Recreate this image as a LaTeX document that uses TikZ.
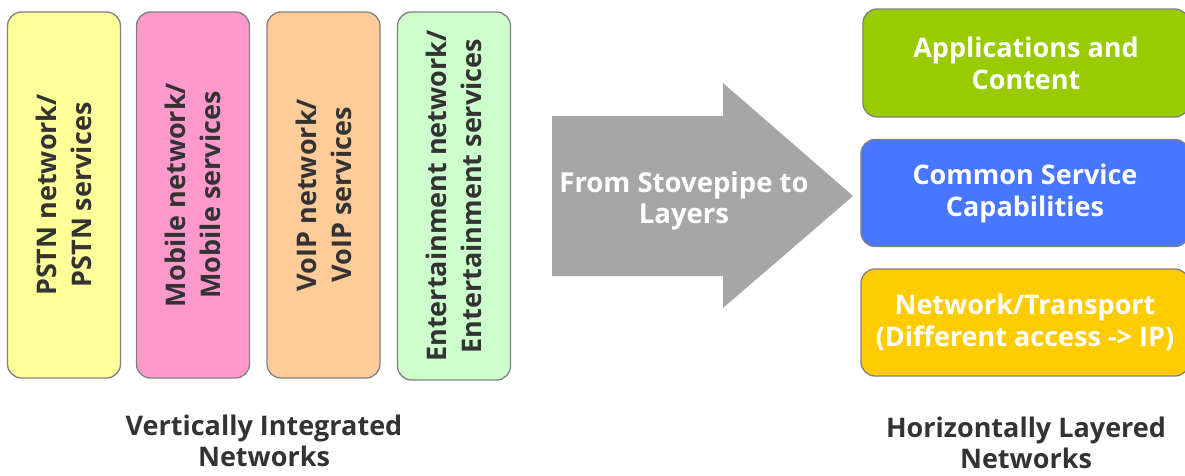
\documentclass[tikz,border=0pt]{standalone}
\usepackage{fontspec}
\setmainfont{Open Sans}[BoldFont={Open Sans Bold}]
\definecolor{txtdark}{HTML}{333333}
\definecolor{edgegray}{HTML}{808080}
\definecolor{pstnfill}{HTML}{FFFF99}
\definecolor{mobilefill}{HTML}{FF99CC}
\definecolor{voipfill}{HTML}{FFCC99}
\definecolor{entfill}{HTML}{CCFFCC}
\definecolor{appfill}{HTML}{99CC00}
\definecolor{svcfill}{HTML}{4876FF}
\definecolor{netfill}{HTML}{FFCC00}
\definecolor{arrowgray}{HTML}{A6A6A6}
\tikzset{
  column/.style={draw=edgegray, line width=1.3pt, rounded corners=14pt,
    rotate=90, minimum width=366pt, minimum height=113pt, align=center,
    text=txtdark, font=\bfseries\fontsize{27}{35}\selectfont, inner sep=0pt},
  layer/.style={draw=edgegray, line width=1.3pt, rounded corners=14pt,
    minimum width=328pt, minimum height=107pt, align=center,
    text=white, font=\bfseries\fontsize{27}{32}\selectfont, inner sep=0pt},
  caption/.style={align=center, text=txtdark,
    font=\bfseries\fontsize{27}{31}\selectfont, inner sep=0pt},
}
\begin{document}
\begin{tikzpicture}[x=1pt, y=-1pt]
\useasboundingbox (0,0) rectangle (1185,475);
\begin{scope}
\clip (0,0) rectangle (1185,475);

% stovepipe columns
\node[column, fill=pstnfill]   (pstn)   at (64,195)  {PSTN network/\\PSTN services};
\node[column, fill=mobilefill] (mobile) at (193,195) {Mobile network/\\Mobile services};
\node[column, fill=voipfill]   (voip)   at (323.5,195) {VoIP network/\\VoIP services};
\node[column, fill=entfill, minimum width=368pt] (ent) at (454,196) {Entertainment network/\\Entertainment services};

% transition arrow
\fill[arrowgray] (552,116) -- (723,116) -- (723,83) -- (853,196)
  -- (723,308) -- (723,276) -- (552,276) -- cycle;
\node[align=center, text=white, font=\bfseries\fontsize{27.5}{31}\selectfont, inner sep=0pt]
  (shift) at (684,201) {From Stovepipe to\\Layers};

% horizontal layers
\node[layer, fill=appfill, minimum width=326pt, minimum height=108pt] (apps) at (1026,63) {Applications and\\Content};
\node[layer, fill=svcfill] (svc) at (1025,193) {Common Service\\Capabilities};
\node[layer, fill=netfill] (net) at (1025,322.5) {Network/Transport\\(Different access -> IP)};

% captions
\node[caption] (vcap) at (264,441) {Vertically Integrated\\Networks};
\node[caption] (hcap) at (1026,443) {Horizontally Layered\\Networks};
\end{scope}
\end{tikzpicture}
\end{document}
